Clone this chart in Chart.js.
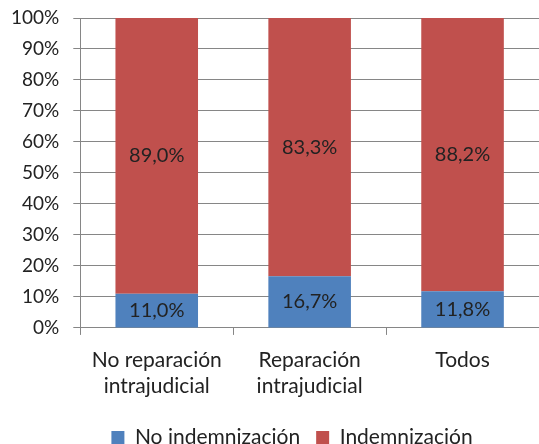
<!DOCTYPE html>
<html>
<head>
<meta charset="utf-8">
<script src="https://cdn.jsdelivr.net/npm/chart.js@4"></script>
<style>
  html, body { margin: 0; padding: 0; background: #fff; }
  #wrap { width: 539px; height: 444px; }
</style>
</head>
<body>
<div id="wrap"><canvas id="chart"></canvas></div>
<script>
const categories = [['No reparación', 'intrajudicial'], ['Reparación', 'intrajudicial'], 'Todos'];
const noIndemnizacion = [11.0, 16.7, 11.8];
const indemnizacion = [89.0, 83.3, 88.2];
const yTicks = [0, 10, 20, 30, 40, 50, 60, 70, 80, 90, 100];

const FONT = 'Lato, "Open Sans", sans-serif';
const TEXT = '#222222';

// draws the value in the middle of each segment
const segmentLabels = {
    id: 'segmentLabels',
    afterDatasetsDraw(chart) {
        const ctx = chart.ctx;
        ctx.save();
        ctx.font = '20px ' + FONT;
        ctx.fillStyle = TEXT;
        ctx.textAlign = 'center';
        ctx.textBaseline = 'middle';
        chart.data.datasets.forEach(function(ds, i) {
            chart.getDatasetMeta(i).data.forEach(function(bar, j) {
                const mid = (bar.y + bar.base) / 2;
                ctx.fillText(ds.data[j].toFixed(1).replace('.', ',') + '%', bar.x, mid);
            });
        });
        ctx.restore();
    }
};

// the legend sits a little right of centre in the original
const legendShift = {
    id: 'legendShift',
    afterLayout(chart) {
        chart.legend.left += 21;
        chart.legend.right += 21;
    }
};

document.addEventListener('DOMContentLoaded', function() {
    const ctx = document.getElementById('chart');
    new Chart(ctx.getContext('2d'), {
        type: 'bar',
        data: {
            labels: categories,
            datasets: [{
                label: 'No indemnización',
                data: noIndemnizacion,
                backgroundColor: '#4F81BD',
                borderWidth: 0,
                categoryPercentage: 1,
                barPercentage: 0.54
            }, {
                label: 'Indemnización',
                data: indemnizacion,
                backgroundColor: '#C0504D',
                borderWidth: 0,
                categoryPercentage: 1,
                barPercentage: 0.54
            }]
        },
        options: {
            responsive: true,
            maintainAspectRatio: false,
            animation: false,
            layout: { padding: { top: 18, right: -6, left: -3, bottom: -14 } },
            plugins: {
                legend: {
                    position: 'bottom',
                    labels: {
                        boxWidth: 13,
                        boxHeight: 13,
                        padding: 16,
                        color: TEXT,
                        font: { family: FONT, size: 21 }
                    }
                },
                tooltip: { enabled: false }
            },
            scales: {
                x: {
                    stacked: true,
                    grid: {
                        offset: true,
                        drawOnChartArea: false,
                        tickLength: 7,
                        color: '#868686'
                    },
                    border: { color: '#868686' },
                    ticks: {
                        color: TEXT,
                        padding: 12,
                        maxRotation: 0,
                        font: { family: FONT, size: 21, lineHeight: 1.24 }
                    }
                },
                y: {
                    stacked: true,
                    min: 0,
                    max: 100,
                    afterBuildTicks: function(axis) {
                        axis.ticks = yTicks.map(function(v) { return { value: v }; });
                    },
                    afterFit: function(axis) {
                        axis.paddingTop = 0;
                        axis.paddingBottom = 0;
                    },
                    grid: { color: '#868686', tickLength: 7 },
                    border: { color: '#868686' },
                    ticks: {
                        color: TEXT,
                        padding: 14,
                        font: { family: FONT, size: 19 },
                        callback: function(v) { return v + '%'; }
                    }
                }
            }
        },
        plugins: [segmentLabels, legendShift]
    });
});
</script>
</body>
</html>
